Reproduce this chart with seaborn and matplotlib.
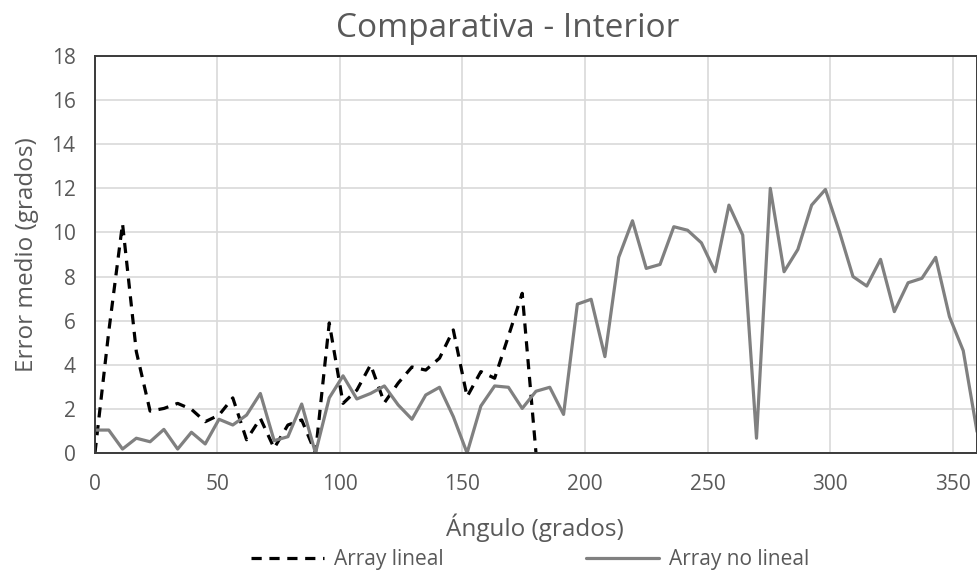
import matplotlib
matplotlib.use("Agg")
import matplotlib.pyplot as plt
import pandas as pd
import seaborn as sns

# angle (degrees) for each sample
angulos = [0, 5.625, 11.25, 16.875, 22.5, 28.125, 33.75, 39.375, 45, 50.625,
           56.25, 61.875, 67.5, 73.125, 78.75, 84.375, 90, 95.625, 101.25, 106.875,
           112.5, 118.125, 123.75, 129.375, 135, 140.625, 146.25, 151.875, 157.5, 163.125,
           168.75, 174.375, 180, 185.625, 191.25, 196.875, 202.5, 208.125, 213.75, 219.375,
           225, 230.625, 236.25, 241.875, 247.5, 253.125, 258.75, 264.375, 270, 275.625,
           281.25, 286.875, 292.5, 298.125, 303.75, 309.375, 315, 320.625, 326.25, 331.875,
           337.5, 343.125, 348.75, 354.375, 360]

# "Array lineal" only covers 0..180
error_lineal = [0.0, 5.5, 10.4, 4.6, 1.9, 2.02, 2.25, 1.98, 1.42, 1.72,
                2.5, 0.6, 1.57, 0.22, 1.27, 1.5, 0.0, 5.9, 2.25, 2.85,
                4.0, 2.28, 3.17, 3.9, 3.76, 4.3, 5.58, 2.55, 3.69, 3.39,
                5.3, 7.24, 0.0]

error_no_lineal = [1.04, 1.04, 0.18, 0.67, 0.51, 1.07, 0.18, 0.94, 0.41, 1.53,
                   1.27, 1.72, 2.70, 0.56, 0.74, 2.22, 0.0, 2.5, 3.5, 2.45,
                   2.7, 3.04, 2.18, 1.53, 2.63, 2.98, 1.65, 0.0, 2.13, 3.04,
                   2.98, 2.02, 2.8, 2.98, 1.75, 6.75, 6.97, 4.37, 8.87, 10.53,
                   8.37, 8.55, 10.26, 10.1, 9.53, 8.22, 11.24, 9.88, 0.67, 12.0,
                   8.22, 9.23, 11.24, 11.95, 10.07, 8.0, 7.57, 8.78, 6.41, 7.72,
                   7.92, 8.87, 6.18, 4.64, 0.97]

x_ticks = [0, 50, 100, 150, 200, 250, 300, 350]
y_ticks = [0, 2, 4, 6, 8, 10, 12, 14, 16, 18]

df_lin = pd.DataFrame({"angulo": angulos[:len(error_lineal)], "error": error_lineal})
df_nolin = pd.DataFrame({"angulo": angulos, "error": error_no_lineal})

sns.set_theme(style="whitegrid")
plt.rcParams["font.family"] = ["Open Sans", "DejaVu Sans"]
txt = "#595959"

fig = plt.figure(figsize=(9.78, 5.74), dpi=100)
ax = fig.add_axes([0.0971, 0.2108, 0.9019, 0.6916])

sns.lineplot(data=df_lin, x="angulo", y="error", ax=ax, color="black",
             linewidth=2.3, linestyle=(0, (3.2, 2.4)), label="Array lineal")
sns.lineplot(data=df_nolin, x="angulo", y="error", ax=ax, color="#808080",
             linewidth=2.3, label="Array no lineal")

ax.set_xlim(0, 360)
ax.set_ylim(0, 18)
ax.set_xticks(x_ticks)
ax.set_yticks(y_ticks)
ax.grid(True, color="#d9d9d9", linewidth=1.2)
ax.tick_params(axis="both", length=0, labelsize=15, labelcolor=txt)
ax.tick_params(axis="y", pad=14)
ax.tick_params(axis="x", pad=15)
for s in ax.spines.values():
    s.set_color("#3a3a3a")
    s.set_linewidth(1.4)

ax.set_xlabel("Ángulo (grados)", fontsize=17.5, color=txt, va="center")
ax.xaxis.set_label_coords(0.499, -0.189)
ax.set_ylabel("Error medio (grados)", fontsize=17.5, color=txt, va="center")
ax.yaxis.set_label_coords(-0.077, 0.5)

fig.text(0.519, 0.95, "Comparativa - Interior", ha="center", va="center",
         fontsize=24, color=txt)

ax.legend(loc="center", bbox_to_anchor=(0.542, 0.025), bbox_transform=fig.transFigure,
          ncol=2, frameon=False, fontsize=15, handlelength=3.5,
          handletextpad=0.5, columnspacing=6.8, labelcolor=txt)

fig.savefig("out.png", dpi=100)
